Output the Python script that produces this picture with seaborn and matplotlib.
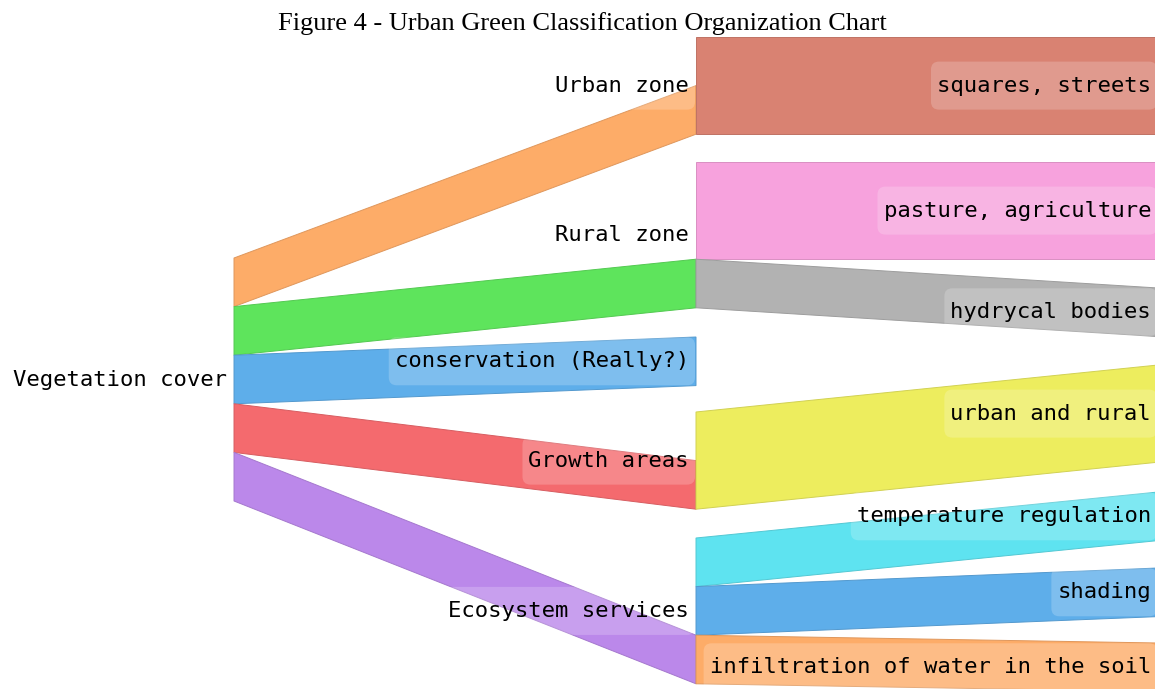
import matplotlib
matplotlib.use("Agg")
import matplotlib.pyplot as plt
import seaborn as sns
from matplotlib.patches import Polygon, FancyBboxPatch

# --- Data ---
labels = ["Vegetation cover", "Urban zone", "Rural zone", "conservation (Really?)",
          "Growth areas", "Ecosystem services", "squares, streets",
          "pasture, agriculture", "hydrycal bodies", "urban and rural",
          "temperature regulation", "shading", "infiltration of water in the soil"]
sources = [0, 0, 0, 0, 0, 1, 2, 2, 4, 5, 5, 5]
targets = [1, 2, 3, 4, 5, 6, 7, 8, 9, 10, 11, 12]
values = [1, 1, 1, 1, 1, 2, 2, 1, 2, 1, 1, 1]
link_colors = ["#fdac68", "#5ee45c", "#5eaeea", "#f46a6e", "#bb88ea", "#d98272",
               "#f7a2dd", "#b2b2b2", "#eded5e", "#5ee3f0", "#5eaeea", "#fdac68"]

# --- Layout (pixels) ---
node_col = [0, 1, 1, 1, 1, 1, 2, 2, 2, 2, 2, 2, 2]
col_x = [234, 696, 1158]
node_top = [258, 37, 162, 337, 412, 538, 37, 162, 288, 365, 492, 568, 643]
unit = 48.6

sns.set_theme(style="white")
plt.rcParams['font.family'] = ['DejaVu Sans Mono', 'DejaVu Sans']

fig = plt.figure(figsize=(11.55, 6.89), dpi=100)
ax = fig.add_axes([0, 0, 1, 1])
ax.set_xlim(0, 1155)
ax.set_ylim(689, 0)
ax.axis('off')

n = len(labels)
out_tot = [0.0] * n
in_tot = [0.0] * n
for s, t, v in zip(sources, targets, values):
    out_tot[s] += v
    in_tot[t] += v
node_h = [max(o, i) * unit for o, i in zip(out_tot, in_tot)]

out_off = [0.0] * n
in_off = [0.0] * n


def darker(c, f=0.88):
    r, g, b = matplotlib.colors.to_rgb(c)
    return (r * f, g * f, b * f)


for s, t, v, c in zip(sources, targets, values, link_colors):
    w = v * unit
    y0 = node_top[s] + out_off[s]
    out_off[s] += w
    # incoming links sit at the bottom of the target node
    y1 = node_top[t] + node_h[t] - in_tot[t] * unit + in_off[t]
    in_off[t] += w
    x0 = col_x[node_col[s]]
    x1 = col_x[node_col[t]]
    poly = Polygon([(x0, y0), (x1, y1), (x1, y1 + w), (x0, y0 + w)],
                   closed=True, facecolor=c, edgecolor=darker(c), lw=0.7)
    ax.add_patch(poly)

texts = []
for i, lab in enumerate(labels):
    xc = col_x[node_col[i]] - 7
    yc = node_top[i] + node_h[i] / 2
    t = ax.text(xc, yc, lab, ha='right', va='center', fontsize=16,
                color='black', zorder=5)
    texts.append((t, yc))

# translucent rounded label boxes
fig.canvas.draw()
rend = fig.canvas.get_renderer()
inv = ax.transData.inverted()
for t, yc in texts:
    bb = t.get_window_extent(rend)
    (xa, _), (xb, _) = inv.transform([(bb.x0, bb.y0), (bb.x1, bb.y1)])
    box = FancyBboxPatch((xa - 6, yc - 24), (xb - xa) + 12, 48,
                         boxstyle='round,pad=0,rounding_size=8',
                         fc='white', ec='none', alpha=0.2, zorder=4)
    ax.add_patch(box)

fig.text(582 / 1155, 1 - 24 / 689, "Figure 4 - Urban Green Classification Organization Chart",
         ha='center', va='center', fontsize=19, family='Liberation Serif',
         color='black')

fig.savefig('out.png', dpi=100)
